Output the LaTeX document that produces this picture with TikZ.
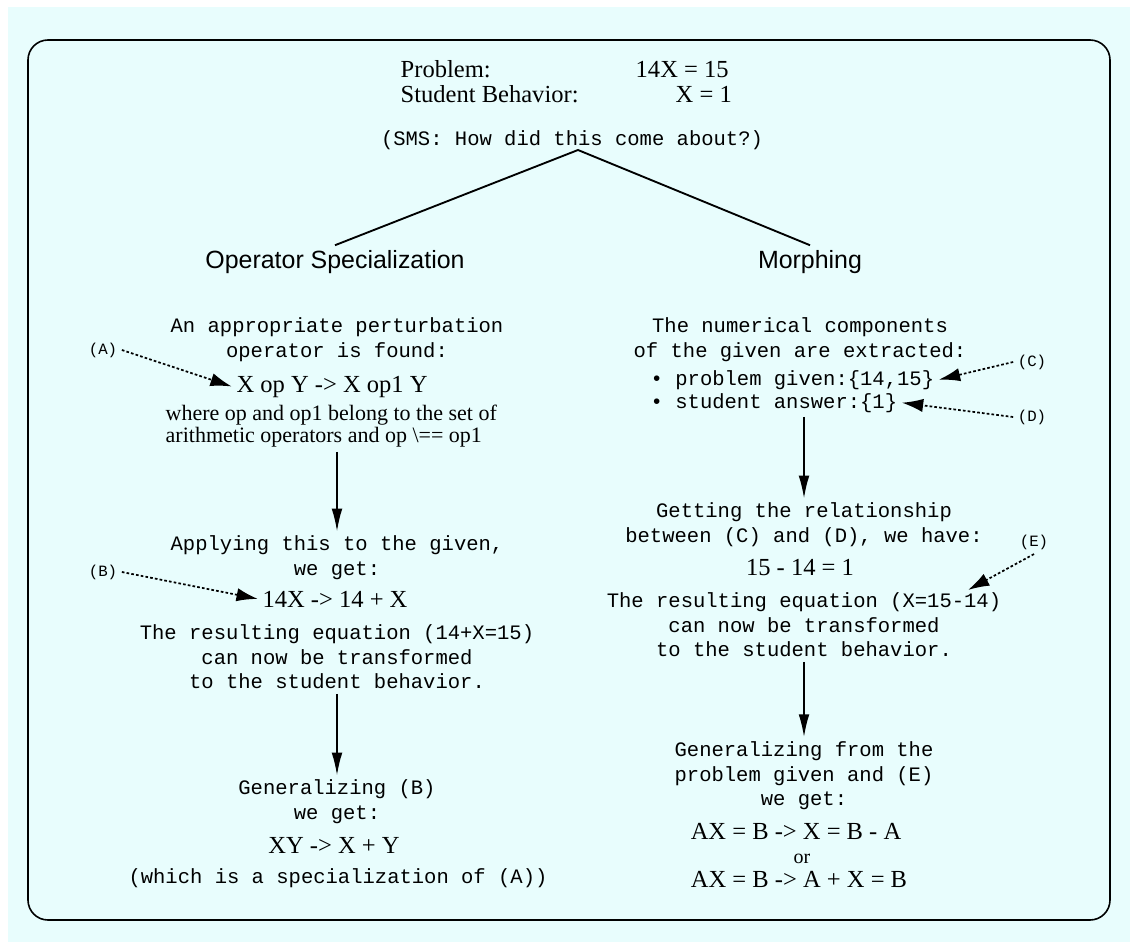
\documentclass[tikz,border=0pt]{standalone}
\usepackage{fontspec}
\setmainfont{Liberation Serif}
\setsansfont{Liberation Sans}
\setmonofont{Liberation Mono}
\usepackage{tikz}
\usetikzlibrary{arrows.meta}
\definecolor{sfondo}{RGB}{232,253,253}

\begin{document}
\begin{tikzpicture}[x=0.75pt, y=-0.75pt,
		mono/.style={font=\ttfamily\fontsize{15.4}{18.5}\selectfont, align=center},
		formula/.style={font=\fontsize{18.4}{22}\selectfont, anchor=base},
		nota/.style={font=\fontsize{16.5}{16.5}\selectfont, align=left, anchor=west},
		tag/.style={font=\ttfamily\fontsize{11.8}{14}\selectfont},
		heading/.style={font=\sffamily\fontsize{18.7}{22}\selectfont, anchor=base},
		flow/.style={-{Latex[length=17pt, width=8pt]}, line width=1.2pt},
		hint/.style={-{Latex[length=16pt, width=10pt]}, line width=1.3pt, dash pattern=on 2pt off 1.6pt}]
		% Sfondo e cornice
		\useasboundingbox (0,0) rectangle (1130,942);
		\fill[sfondo] (8,7) rectangle (1130,942);
		\draw[line width=1.2pt, rounded corners=15pt] (28,40) rectangle (1110,920);
		
		% Definizione dei nodi
		\node[formula, anchor=base west] (Problem) at (396,77) {Problem:};
		\node[formula, anchor=base west] (ProblemEq) at (631,77) {14X = 15};
		\node[formula, anchor=base west] (Behavior) at (396,103) {Student Behavior:};
		\node[formula, anchor=base west] (BehaviorEq) at (671,103) {X = 1};
		\node[mono] (SMS) at (572,140) {(SMS: How did this come about?)};
		\coordinate (Apex) at (578,150);
		\node[heading] (OpSpec) at (335,268) {Operator Specialization};
		\node[heading] (Morphing) at (810,268) {Morphing};
		
		% Colonna sinistra
		\node[mono] (Perturbation) at (337,340) {An appropriate perturbation\\operator is found:};
		\node[formula] (OpRule) at (332,392) {X op Y -> X op1 Y};
		\node[nota] (Where) at (161,426) {where op and op1 belong to the set of\\arithmetic operators and op \textbackslash== op1};
		\node[mono] (Applying) at (337,558) {Applying this to the given,\\we get:};
		\node[formula] (RuleB) at (335,607) {14X -> 14 + X};
		\node[mono] (ResultLeft) at (337,657) {The resulting equation (14+X=15)\\can now be transformed\\to the student behavior.};
		\node[mono] (GenB) at (337,802) {Generalizing (B)\\we get:};
		\node[formula] (RuleXY) at (334,853) {XY -> X + Y};
		\node[mono] (Special) at (338,878) {(which is a specialization of (A))};
		\node[tag] (TagA) at (103,350) {(A)};
		\node[tag] (TagB) at (103,572) {(B)};
		
		% Colonna destra
		\node[mono] (Numerical) at (800,340) {The numerical components\\of the given are extracted:};
		\node[mono, anchor=base west] (Given) at (646,385) {\textbullet\ problem given:\{14,15\}};
		\node[mono, anchor=base west] (Answer) at (646,408) {\textbullet\ student answer:\{1\}};
		\node[mono] (Relation) at (804,525) {Getting the relationship\\between (C) and (D), we have:};
		\node[formula] (Difference) at (800,575) {15 - 14 = 1};
		\node[mono] (ResultRight) at (804,625) {The resulting equation (X=15-14)\\can now be transformed\\to the student behavior.};
		\node[mono] (GenE) at (804,776) {Generalizing from the\\problem given and (E)\\we get:};
		\node[formula] (RuleAX1) at (796,839) {AX = B -> X = B - A};
		\node[formula, font=\fontsize{15}{18}\selectfont] (Or) at (802,863) {or};
		\node[formula] (RuleAX2) at (799,887) {AX = B -> A + X = B};
		\node[tag] (TagC) at (1032,362) {(C)};
		\node[tag] (TagD) at (1032,417) {(D)};
		\node[tag] (TagE) at (1034,542) {(E)};
		\coordinate (Etip) at (968,590);
		
		% Collegamenti
		\draw[line width=1.4pt] (OpSpec.north) -- (Apex) -- (Morphing.north);
		\draw[flow] (Where.south -| Applying.north) -- (Applying.north);
		\draw[flow] (ResultLeft.south) -- (GenB.north);
		\draw[flow] (Answer.south -| Relation.north) -- (Relation.north);
		\draw[flow] (ResultRight.south) -- (GenE.north);
		
		\draw[hint] (TagA.east) -- (OpRule.west);
		\draw[hint] (TagB.east) -- (RuleB.west);
		\draw[hint] (TagC.west) -- (Given.east);
		\draw[hint] (TagD.west) -- (Answer.east);
		\draw[hint] (TagE.south) -- (Etip);
	\end{tikzpicture}
\end{document}
